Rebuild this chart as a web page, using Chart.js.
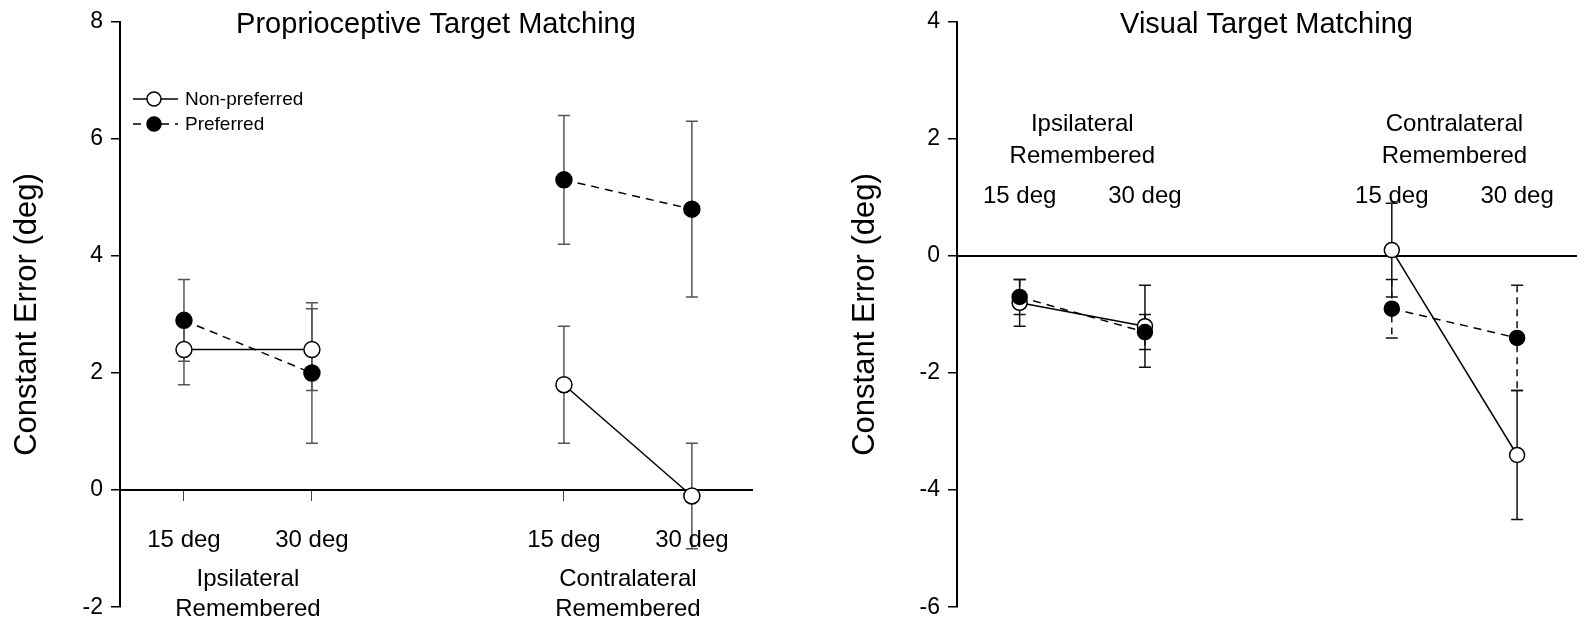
<!DOCTYPE html>
<html>
<head>
<meta charset="utf-8">
<script src="https://cdn.jsdelivr.net/npm/chart.js@4.4.0/dist/chart.umd.min.js"></script>
<style>
  html, body { margin: 0; padding: 0; background: #fff; }
  #wrap { position: relative; width: 1585px; height: 629px; }
  #left { position: absolute; left: 0; top: 0; }
  #right { position: absolute; left: 790px; top: 0; }
</style>
</head>
<body>
<div id="wrap">
  <canvas id="left" width="790" height="629"></canvas>
  <canvas id="right" width="795" height="629"></canvas>
</div>
<script>
// conditions along the x axis
const conditions = ['15 deg', '30 deg', '15 deg', '30 deg'];
const condX = [1, 2, 3.97, 4.97];
const groups = [['Ipsilateral', 'Remembered'], ['Contralateral', 'Remembered']];
const seriesNames = ['Non-preferred', 'Preferred'];

// proprioceptive target matching
const propNonPref = [2.4, 2.4, 1.8, -0.1];
const propNonPrefErr = [0.6, 0.7, 1.0, 0.9];
const propPref = [2.9, 2.0, 5.3, 4.8];
const propPrefErr = [0.7, 1.2, 1.1, 1.5];
const propTicks = [-2, 0, 2, 4, 6, 8];

// visual target matching
const visNonPref = [-0.8, -1.2, 0.1, -3.4];
const visNonPrefErr = [0.4, 0.7, 0.8, 1.1];
const visPref = [-0.7, -1.3, -0.9, -1.4];
const visPrefErr = [0.3, 0.3, 0.5, 0.9];
const visTicks = [-6, -4, -2, 0, 2, 4];

const FONT = "'Liberation Sans', Arial, sans-serif";

// no line between the ipsilateral and contralateral groups
const skipGap = ctx => ctx.p0DataIndex === 1 ? 'transparent' : '#000';

function makeDatasets(nonPref, nonPrefErr, pref, prefErr, radius, prefBarDash) {
  return [
    {
      label: seriesNames[0],
      data: nonPref.map((v, i) => ({x: condX[i], y: v})),
      errors: nonPrefErr,
      barDash: [],
      borderColor: '#000',
      borderWidth: 1.5,
      pointRadius: radius,
      pointBorderWidth: 1.5,
      pointBackgroundColor: '#fff',
      pointBorderColor: '#000',
      segment: {borderColor: skipGap},
      order: 2
    },
    {
      label: seriesNames[1],
      data: pref.map((v, i) => ({x: condX[i], y: v})),
      errors: prefErr,
      barDash: prefBarDash,
      borderColor: '#000',
      borderWidth: 1.5,
      borderDash: [8, 6],
      pointRadius: radius,
      pointBorderWidth: 1.5,
      pointBackgroundColor: '#000',
      pointBorderColor: '#000',
      segment: {borderColor: skipGap},
      order: 1
    }
  ];
}

const errorBars = {
  id: 'errorBars',
  beforeDatasetsDraw(chart, args, opts) {
    const {ctx, scales: {x, y}} = chart;
    chart.data.datasets.forEach(ds => {
      ds.data.forEach((p, j) => {
        const px = x.getPixelForValue(p.x);
        const top = y.getPixelForValue(p.y + ds.errors[j]);
        const bot = y.getPixelForValue(p.y - ds.errors[j]);
        ctx.save();
        ctx.strokeStyle = opts.color;
        ctx.lineWidth = 1.5;
        ctx.setLineDash(ds.barDash);
        ctx.beginPath();
        ctx.moveTo(px, top);
        ctx.lineTo(px, bot);
        ctx.stroke();
        ctx.setLineDash([]);
        ctx.beginPath();
        ctx.moveTo(px - 6, top); ctx.lineTo(px + 6, top);
        ctx.moveTo(px - 6, bot); ctx.lineTo(px + 6, bot);
        ctx.stroke();
        ctx.restore();
      });
    });
  }
};

const texts = {
  id: 'texts',
  afterDraw(chart, args, o) {
    const {ctx, chartArea, scales: {x}} = chart;
    ctx.save();
    ctx.fillStyle = '#000';
    ctx.textAlign = 'center';
    ctx.textBaseline = 'alphabetic';
    ctx.font = '29px ' + FONT;
    ctx.fillText(o.title, (chartArea.left + chartArea.right) / 2, o.titleBase);
    ctx.font = '24px ' + FONT;
    conditions.forEach((c, i) => ctx.fillText(c, x.getPixelForValue(condX[i]), o.condBase));
    groups.forEach((lines, g) => {
      const cx = (x.getPixelForValue(condX[2 * g]) + x.getPixelForValue(condX[2 * g + 1])) / 2;
      lines.forEach((t, k) => ctx.fillText(t, cx, o.groupBase[k]));
    });
    if (o.legend) {
      const lg = o.legend;
      ctx.font = '19px ' + FONT;
      ctx.textAlign = 'left';
      ctx.textBaseline = 'middle';
      chart.data.datasets.forEach((ds, i) => {
        const ry = lg.rows[i];
        ctx.strokeStyle = '#000';
        ctx.lineWidth = 1.5;
        ctx.setLineDash(ds.borderDash || []);
        ctx.beginPath();
        ctx.moveTo(lg.x, ry); ctx.lineTo(lg.x + 45, ry);
        ctx.stroke();
        ctx.setLineDash([]);
        ctx.beginPath();
        ctx.arc(lg.x + 21, ry, 7, 0, Math.PI * 2);
        ctx.fillStyle = ds.pointBackgroundColor;
        ctx.fill();
        ctx.stroke();
        ctx.fillStyle = '#000';
        ctx.fillText(ds.label, lg.x + 52, ry + 1);
      });
    }
    ctx.restore();
  }
};

function makeChart(id, datasets, ticks, axisWidth, titlePad, tickLen, plugOpts, barColor, padRight) {
  return new Chart(document.getElementById(id), {
    type: 'line',
    data: {datasets: datasets},
    plugins: [errorBars, texts],
    options: {
      responsive: false,
      animation: false,
      devicePixelRatio: 1,
      layout: {padding: {left: 0, top: 19, right: padRight, bottom: 17}},
      plugins: {
        legend: {display: false},
        tooltip: {enabled: false},
        errorBars: {color: barColor},
        texts: plugOpts
      },
      scales: {
        x: {
          type: 'linear',
          position: {y: 0},
          min: 0.5,
          max: 5.44,
          afterBuildTicks: s => { s.ticks = condX.map(v => ({value: v})); },
          ticks: {display: false},
          grid: {drawOnChartArea: false, drawTicks: tickLen > 0, tickLength: tickLen, color: '#444', lineWidth: 1},
          border: {color: '#000', width: 2}
        },
        y: {
          type: 'linear',
          position: 'left',
          min: ticks[0],
          max: ticks[ticks.length - 1],
          afterBuildTicks: s => { s.ticks = ticks.map(v => ({value: v})); },
          afterFit: s => { s.width = axisWidth; },
          ticks: {color: '#000', padding: 8, font: {family: FONT, size: 23}},
          grid: {drawOnChartArea: false, tickLength: 9, color: '#000', lineWidth: 1.5},
          border: {color: '#000', width: 2},
          title: {
            display: true,
            text: 'Constant Error (deg)',
            color: '#000',
            font: {family: FONT, size: 31},
            padding: {top: titlePad, bottom: 0}
          }
        }
      }
    }
  });
}

makeChart('left',
  makeDatasets(propNonPref, propNonPrefErr, propPref, propPrefErr, 8, []),
  propTicks, 120, 9, 10,
  {title: 'Proprioceptive Target Matching', titleBase: 33, condBase: 547, groupBase: [586, 616],
   legend: {x: 133, rows: [99, 124]}},
  '#555', 38);

makeChart('right',
  makeDatasets(visNonPref, visNonPrefErr, visPref, visPrefErr, 7.5, [7, 5]),
  visTicks, 167, 57, 0,
  {title: 'Visual Target Matching', titleBase: 33, condBase: 203, groupBase: [131, 163]},
  '#111', 0);
</script>
</body>
</html>
